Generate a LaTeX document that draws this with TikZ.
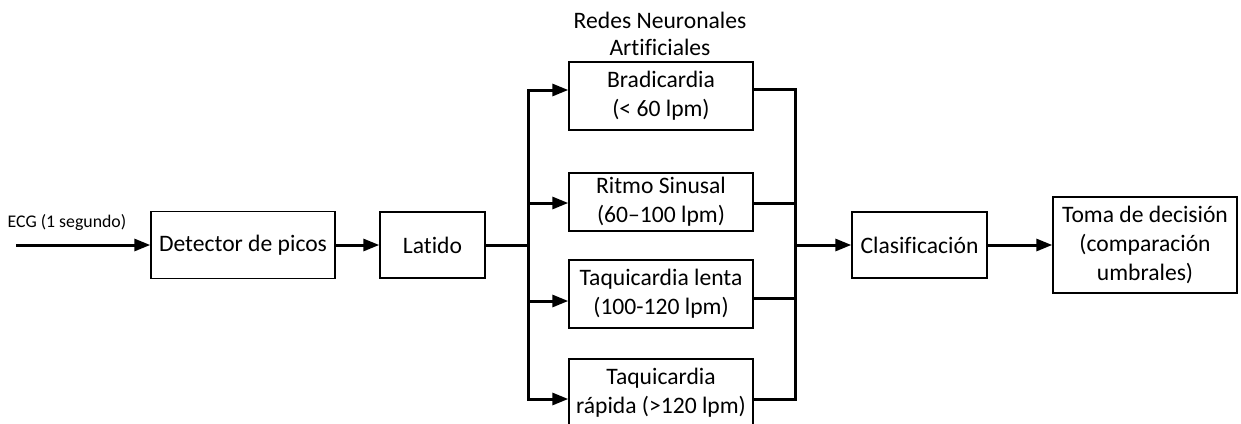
\documentclass[tikz,border=0pt]{standalone}
\usepackage{fontspec}
\setmainfont{Carlito}[Ligatures={NoCommon}]
\usetikzlibrary{arrows.meta,calc}
\begin{document}
\begin{tikzpicture}[x=1pt,y=-1pt,
  blk/.style={draw=black,line width=1.4pt,fill=white,align=center,inner sep=0pt,
    font=\fontsize{23.6}{29}\selectfont},
  wire/.style={line width=3pt,line join=miter},
  arr/.style={wire,-{Triangle[length=16pt,width=12pt]}}]
\useasboundingbox (0,0) rectangle (1241,423);
\node[blk,minimum width=184pt,minimum height=67pt] (det) at (243,245) {Detector de picos};
\node[blk,minimum width=105pt,minimum height=66pt] (lat) at (432.5,245) {Latido};
\node[blk,minimum width=184pt,minimum height=68pt] (brad) at (661,96) {Bradicardia\\(< 60 lpm)};
\node[blk,minimum width=184pt,minimum height=58pt] (rit) at (661,202) {Ritmo Sinusal\\(60–100 lpm)};
\node[blk,minimum width=184pt,minimum height=68pt] (tql) at (661,294) {Taquicardia lenta\\(100-120 lpm)};
\node[blk,minimum width=184pt,minimum height=68pt] (tqr) at (661,393) {Taquicardia\\rápida (>120 lpm)};
\node[blk,minimum width=135pt,minimum height=66pt] (cla) at (919.5,245) {Clasificación};
\node[blk,minimum width=184pt,minimum height=96pt] (tom) at (1145,245) {Toma de decisión\\(comparación\\umbrales)};
\node[align=center,font=\fontsize{23.6}{27}\selectfont] (tit) at (660,34) {Redes Neuronales\\Artificiales};
\node[font=\fontsize{17.8}{20}\selectfont] (ecg) at (67,223) {ECG (1 segundo)};
\coordinate (in) at (16,245);
\coordinate (jL) at (528,245);
\coordinate (jR) at (795,245);
\draw[arr] (in) -- (det.west);
\draw[arr] (det.east) -- (lat.west);
\draw[wire] (lat.east) -- (jL);
\draw[wire] ($(jL|-brad.west)+(0,-6)$) -- ($(jL|-tqr.west)+(0,6)$);
\draw[arr] (jL) |- ([yshift=6pt]brad.west);
\draw[arr] (jL) |- ([yshift=-1pt]rit.west);
\draw[arr] (jL) |- ([yshift=-7pt]tql.west);
\draw[arr] (jL) |- ([yshift=-6pt]tqr.west);
\draw[wire] ([yshift=7pt]brad.east) -| (jR);
\draw[wire] ([yshift=-1pt]rit.east) -| (jR);
\draw[wire] ([yshift=-4pt]tql.east) -| (jR);
\draw[wire] ([yshift=-6pt]tqr.east) -| (jR);
\draw[arr] (jR) -- (cla.west);
\draw[arr] (cla.east) -- (tom.west);
\end{tikzpicture}
\end{document}
